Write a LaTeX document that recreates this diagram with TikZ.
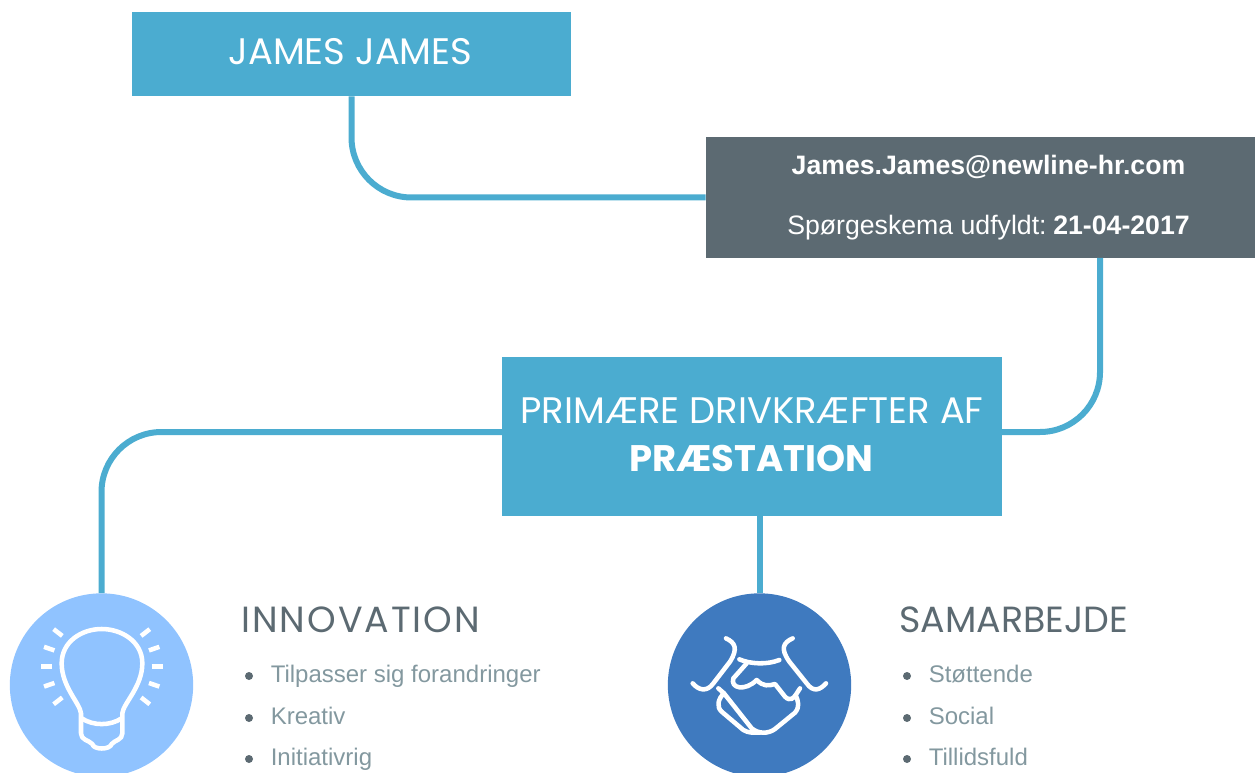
\documentclass[tikz,border=0pt]{standalone}
\usepackage{fontspec}
\setmainfont{Liberation Sans}
\newfontfamily\headfont{Poppins}
\definecolor{tealblue}{HTML}{4BACD0}
\definecolor{slategrey}{HTML}{5C6A72}
\definecolor{listgrey}{HTML}{83989F}
\definecolor{bulbblue}{HTML}{90C3FF}
\definecolor{handblue}{HTML}{3F7ABF}
\tikzset{
  headbox/.style={fill=tealblue,inner sep=0pt},
  headtext/.style={text=white,inner sep=0pt,anchor=base,font=\headfont\fontsize{27.7}{36.5}\selectfont},
  infobox/.style={fill=slategrey,inner sep=0pt},
  infotext/.style={text=white,inner sep=0pt,align=center,font=\fontsize{20}{45}\selectfont},
  link/.style={draw=tealblue,line width=4.5pt,rounded corners=45pt},
  disc/.style={circle,inner sep=0pt,minimum size=137.5pt},
  icon/.style={draw=white,line width=3.4pt,line cap=round,line join=round},
  heading/.style={anchor=base west,inner sep=0pt,text=slategrey,font=\headfont\fontsize{27.3}{30}\selectfont},
  entry/.style={anchor=base west,inner sep=0pt,text=listgrey,font=\fontsize{18}{22}\selectfont},
  dot/.style={circle,fill=slategrey,inner sep=0pt,minimum size=6pt}
}
\begin{document}
\begin{tikzpicture}[x=0.75pt,y=-0.75pt]
  \useasboundingbox (0,0) rectangle (1255,773);
  % boxes
  \node[headbox,minimum width=329.25pt,minimum height=63pt] (james) at (351.5,54) {};
  \node[headtext] (jamestext) at (350.5,65) {JAMES JAMES};
  \node[infobox,minimum width=411.75pt,minimum height=90.75pt] (mail) at (980.5,197.5) {};
  \node[infotext] (mailtext) at (988.5,197.5)
    {\textbf{James.James@newline-hr.com}\\Spørgeskema udfyldt:\hspace{5pt}\textbf{21-04-2017}};
  \node[headbox,minimum width=375pt,minimum height=119.25pt] (drive) at (752,436.5) {};
  \node[headtext] (drivetop) at (752,423) {PRIMÆRE DRIVKRÆFTER AF};
  \node[headtext] (drivebottom) at (751,471) {\textbf{PRÆSTATION}};
  \node[disc,fill=bulbblue] (innovation) at (101.5,685) {};
  \node[disc,fill=handblue] (samarbejde) at (759.5,685) {};
  % connectors
  \coordinate (mailout) at (1100,258);
  \coordinate (driveright) at (1002,432);
  \coordinate (driveleft) at (502,432);
  \draw[link] (james.south) |- (mail.west);
  \draw[link] (mailout) |- (driveright);
  \draw[link] (innovation.north) |- (driveleft);
  \draw[link] (samarbejde.north |- drive.south) -- (samarbejde.north);
  % bulb
  \coordinate (bulbcentre) at (101.7,666.7);
  \foreach \a in {-38,-19,0,19,38,142,161,180,199,218}
    \draw[icon,line cap=butt] (bulbcentre) ++(\a:50) -- ++(\a:11);
  \begin{scope}[shift={(0,580)},x=0.25pt,y=-0.25pt]
    \draw[icon] (243,400) .. controls (240,370) and (185,320) .. (185,250)
      .. controls (185,185) and (245,147) .. (305,147)
      .. controls (365,147) and (427,185) .. (427,250)
      .. controls (427,320) and (370,370) .. (367,400)
      -- (367,460) .. controls (367,480) and (345,480) .. (335,492)
      .. controls (330,510) and (280,510) .. (277,492)
      .. controls (265,480) and (243,480) .. (243,460) -- cycle;
    \draw[icon] (245,415) .. controls (280,438) and (330,438) .. (365,415);
  \end{scope}
  % handshake
  \begin{scope}[shift={(650,580)},x=0.25pt,y=-0.25pt]
    \draw[icon] (228,175) .. controls (255,188) and (265,205) .. (240,245)
      -- (190,310) .. controls (170,338) and (145,330) .. (128,310);
    \draw[icon] (428,175) .. controls (400,188) and (390,205) .. (418,245)
      -- (470,310) .. controls (490,338) and (510,330) .. (528,310);
    \draw[icon] (268,238) .. controls (300,252) and (350,255) .. (388,240);
    \draw[icon] (290,250) -- (250,295) .. controls (240,325) and (285,335) .. (320,300)
      .. controls (340,320) and (355,318) .. (375,312) -- (405,350)
      .. controls (420,365) and (430,355) .. (437,345);
    \draw[icon] (450,325) -- (437,345) .. controls (445,365) and (450,380) .. (435,398)
      -- (375,447) .. controls (355,462) and (325,462) .. (305,445) -- (222,340);
    \draw[icon] (205,325) -- (222,340) .. controls (205,355) and (198,380) .. (215,395)
      -- (280,450) .. controls (295,460) and (315,458) .. (330,458);
  \end{scope}
  % texts
  \node[heading] (innovationhead) at (241,632) {\addfontfeature{LetterSpace=5.5}INNOVATION};
  \node[heading] (samarbejdehead) at (899,632) {SAMARBEJDE};
  \foreach \name/\ypos/\label in {a/682/Tilpasser sig forandringer,b/724/Kreativ,c/765/Initiativrig}{
    \node[dot] (dotl\name) at (249,\ypos-6) {};
    \node[entry] (textl\name) at (270.5,\ypos) {\label};
  }
  \foreach \name/\ypos/\label in {a/682/Støttende,b/724/Social,c/765/Tillidsfuld}{
    \node[dot] (dotr\name) at (907,\ypos-6) {};
    \node[entry] (textr\name) at (928.5,\ypos) {\label};
  }
\end{tikzpicture}
\end{document}
